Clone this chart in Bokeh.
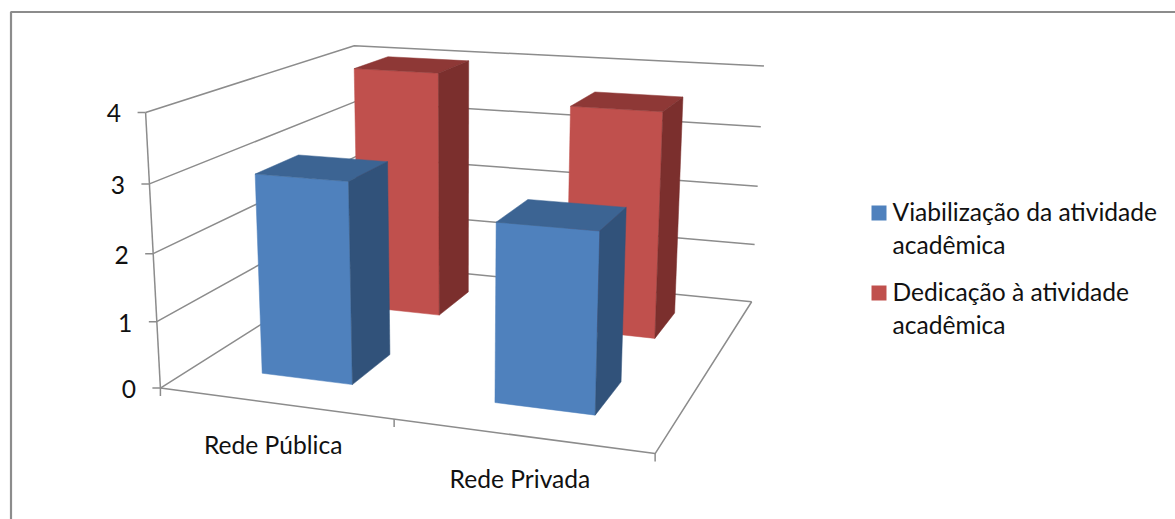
import numpy as np
from bokeh.core.properties import value
from bokeh.embed import file_html
from bokeh.models import Range1d
from bokeh.plotting import figure
from bokeh.resources import INLINE

categories = ["Rede Pública", "Rede Privada"]
series_names = [["Viabilização da atividade", "acadêmica"],
                ["Dedicação à atividade", "acadêmica"]]
viabilizacao = [3.0, 2.6]
dedicacao = [4.0, 3.6]
value_ticks = [0, 1, 2, 3, 4]

FONT = value("Lato")
TEXT_SIZE = "24.6px"
TEXT_COLOR = "#111111"
LINE_COLOR = "#8c8c8c"
BLUE = ("#4f81bd", "#3c6493", "#31527a")   # front, top, side
RED = ("#c0504d", "#8e3836", "#7b2f2d")

# Perspective camera: known box corners (category, depth, value) and where
# they land on the page. The projection matrix is solved from these pairs.
BOX_WORLD = [(0, 0, 4), (0, 0, 3), (0, 0, 2), (0, 0, 1), (0, 0, 0), (2, 0, 0), (2, 1, 0),
             (2, 1, 1), (2, 1, 2), (2, 1, 3), (2, 1, 4), (0, 1, 4), (0, 1, 0), (1, 0, 0)]
BOX_PAGE = [(145, 112.3), (149.3, 183.3), (152.7, 252.7), (156.7, 320.7), (159.5, 387.3),
            (654.7, 452.7), (750.7, 300.7), (754.3, 244), (757.3, 185.7), (760.7, 126.3),
            (763.3, 65.7), (353.3, 45), (358, 263), (393.3, 420)]


def solve_camera(world, page):
    rows, rhs = [], []
    for (x, d, v), (u, w) in zip(world, page):
        rows.append([x, d, v, 1, 0, 0, 0, 0, -u * x, -u * d, -u * v])
        rhs.append(u)
        rows.append([0, 0, 0, 0, x, d, v, 1, -w * x, -w * d, -w * v])
        rhs.append(w)
    sol = np.linalg.lstsq(np.array(rows, float), np.array(rhs, float), rcond=None)[0]
    return np.append(sol, 1).reshape(3, 4)


CAMERA = solve_camera(BOX_WORLD, BOX_PAGE)


def project(x, d, v):
    h = CAMERA @ np.array([x, d, v, 1.0])
    return h[0] / h[2], h[1] / h[2]


def path(*points):
    xy = [project(*pt) for pt in points]
    return [q[0] for q in xy], [q[1] for q in xy]


p = figure(width=1175, height=519, x_range=Range1d(0, 1175), y_range=Range1d(519, 0),
           output_backend="svg", toolbar_location=None, min_border=0, outline_line_color=None)
p.axis.visible = False
p.grid.visible = False

# Chart frame: only the left and top edges fall inside the page
p.line([10.5, 10.5, 1175], [519, 11.5, 11.5], line_color=LINE_COLOR, line_width=2.2)

# Value gridlines run along the side wall and the back wall
for v in value_ticks:
    xs, ys = path((0, 0, v), (0, 1, v), (2, 1, v))
    p.line(xs, ys, line_color=LINE_COLOR, line_width=1.5)

# Floor edges
xs, ys = path((0, 0, 0), (2, 0, 0), (2, 1, 0))
p.line(xs, ys, line_color=LINE_COLOR, line_width=1.5)

# Value axis with its ticks
xs, ys = path((0, 0, 0), (0, 0, value_ticks[-1]))
p.line(xs, ys, line_color=LINE_COLOR, line_width=1.5)
for v in value_ticks:
    u, w = project(0, 0, v)
    p.line([u - 8, u], [w, w], line_color=LINE_COLOR, line_width=1.5)
    p.text([u - 24.5], [w + 1], text=[str(v)], text_font=FONT, text_font_size=TEXT_SIZE,
           text_color=TEXT_COLOR, text_align="right", text_baseline="middle")

# Category ticks and labels
for i in range(len(categories) + 1):
    u, w = project(i, 0, 0)
    p.line([u, u], [w, w + 8], line_color=LINE_COLOR, line_width=1.5)
for i, name in enumerate(categories):
    u, w = project(i + 0.5, 0, 0)
    p.text([u - 1], [w + 41 + i * 2], text=[name], text_font=FONT, text_font_size=TEXT_SIZE,
           text_color=TEXT_COLOR, text_align="center", text_baseline="middle")


def draw_bar(cat, d0, d1, height, colors):
    x0, x1 = cat + 0.3, cat + 0.7
    front, top, side = colors
    xs, ys = path((x0, d0, 0), (x1, d0, 0), (x1, d0, height), (x0, d0, height))
    p.patch(xs, ys, fill_color=front, line_color=front, line_width=0.5)
    xs, ys = path((x0, d0, height), (x1, d0, height), (x1, d1, height), (x0, d1, height))
    p.patch(xs, ys, fill_color=top, line_color=top, line_width=0.5)
    xs, ys = path((x1, d0, 0), (x1, d1, 0), (x1, d1, height), (x1, d0, height))
    p.patch(xs, ys, fill_color=side, line_color=side, line_width=0.5)


# Rear series first so the front series overlaps it
for i, h in enumerate(dedicacao):
    draw_bar(i, 0.65, 0.85, h, RED)
for i, h in enumerate(viabilizacao):
    draw_bar(i, 0.15, 0.35, h, BLUE)

# Legend, wrapped on two lines per entry
for names, swatch, top_y, line1, line2 in ((series_names[0], BLUE[0], 205, 211, 244),
                                           (series_names[1], RED[0], 285, 291, 324)):
    p.quad(left=[871], right=[886], top=[top_y], bottom=[top_y + 15], fill_color=swatch, line_color=None)
    p.text([892, 892], [line1, line2], text=names, text_font=FONT, text_font_size=TEXT_SIZE,
           text_color=TEXT_COLOR, text_align="left", text_baseline="middle")

open("out.html", "w").write(file_html(p, INLINE))
